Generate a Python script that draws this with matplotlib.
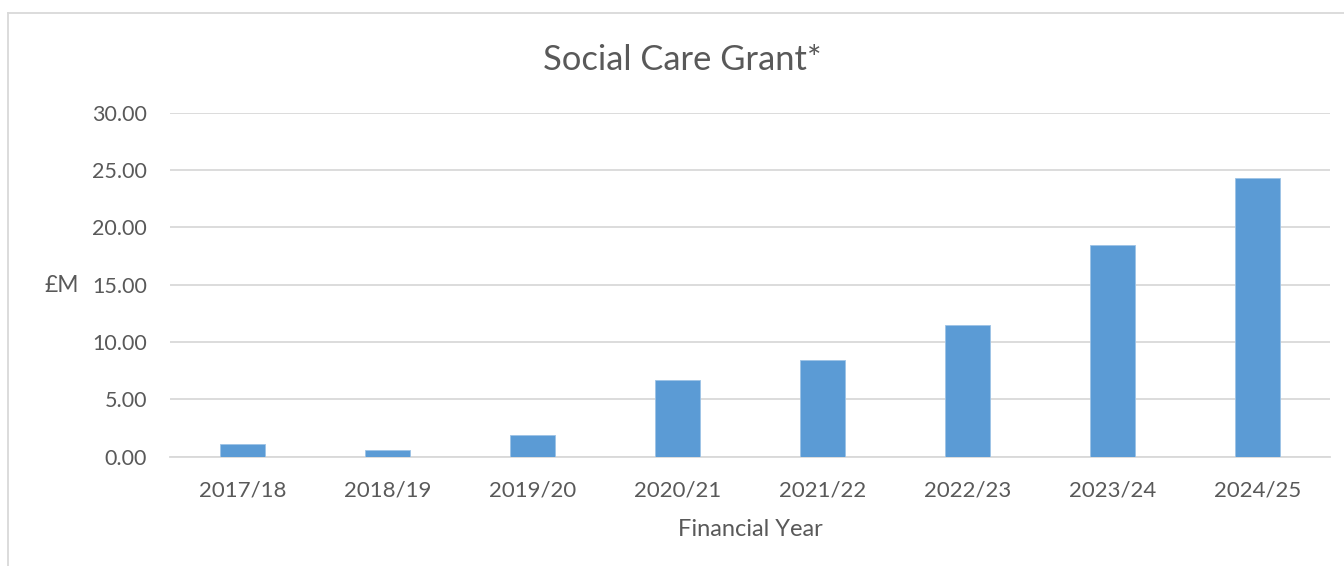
import matplotlib
matplotlib.use("Agg")
import matplotlib.pyplot as plt
from matplotlib.lines import Line2D

categories = ["2017/18", "2018/19", "2019/20", "2020/21", "2021/22", "2022/23", "2023/24", "2024/25"]
values = [1.08, 0.61, 1.87, 6.66, 8.40, 11.46, 18.43, 24.27]
yticks = [0, 5, 10, 15, 20, 25, 30]

plt.rcParams['font.family'] = ['Lato', 'DejaVu Sans']
text_color = '#595959'
grid_color = '#D9D9D9'
bar_color = '#5B9BD5'

fig = plt.figure(figsize=(13.44, 5.66), dpi=100)
ax = fig.add_axes([170/1344, 1-456.7/566, 1160/1344, (456.7-112.7)/566])

x = list(range(len(categories)))
ax.bar(x, values, width=0.315, color=bar_color, edgecolor='#9DC3E6', linewidth=0.6, zorder=3)

ax.set_xlim(-0.5, len(categories)-0.5)
ax.set_ylim(0, 30)
ax.set_yticks(yticks)
ax.set_yticklabels([f"{v:.2f}" for v in yticks])
ax.set_xticks(x)
ax.set_xticklabels(categories)
ax.yaxis.grid(True, color=grid_color, linewidth=1.3, zorder=0)
ax.set_axisbelow(True)
for s in ['top', 'right', 'left']:
    ax.spines[s].set_visible(False)
ax.spines['bottom'].set_color(grid_color)
ax.spines['bottom'].set_linewidth(1.3)
ax.tick_params(axis='both', length=0, colors=text_color)
ax.tick_params(axis='y', pad=16.5, labelsize=15.5)
ax.tick_params(axis='x', pad=17, labelsize=16)

ax.set_xlabel("Financial Year", color=text_color, fontsize=17, labelpad=13.5)
fig.text(62/1344, 1-286/566, "£M", color=text_color, fontsize=16.5, ha='center', va='center')

fig.text(682/1344, 1-60/566, "Social Care Grant*", color=text_color, fontsize=24.8, ha='center', va='center')

# chart frame
fig.add_artist(Line2D([8/1344, 8/1344], [0, 1-13/566], transform=fig.transFigure, color=grid_color, linewidth=1.3))
fig.add_artist(Line2D([8/1344, 1], [1-13/566, 1-13/566], transform=fig.transFigure, color=grid_color, linewidth=1.3))

fig.savefig("out.png", dpi=100, facecolor='white')
